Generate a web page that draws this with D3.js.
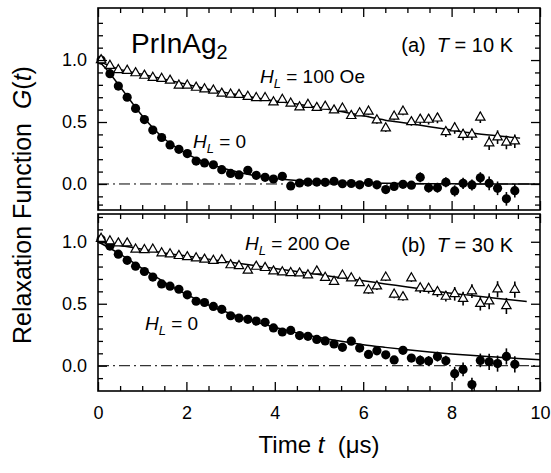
<!DOCTYPE html>
<html>
<head>
<meta charset="utf-8">
<script src="https://cdn.jsdelivr.net/npm/d3@7"></script>
<style>
  body { margin: 0; background: #fff; }
  svg text { font-family: "Liberation Sans", Arial, Helvetica, sans-serif; fill: #000; }
</style>
</head>
<body>
<div id="chart"></div>
<script>
// time bins (us), shared by all four spectra
var times = [0.07, 0.27, 0.46, 0.66, 0.85, 1.05, 1.24, 1.44, 1.63, 1.83,
  2.02, 2.22, 2.41, 2.61, 2.80, 3.00, 3.19, 3.39, 3.58, 3.78,
  3.97, 4.17, 4.36, 4.56, 4.75, 4.95, 5.14, 5.34, 5.53, 5.73,
  5.92, 6.12, 6.31, 6.51, 6.70, 6.90, 7.09, 7.29, 7.48, 7.68,
  7.87, 8.07, 8.26, 8.46, 8.65, 8.85, 9.04, 9.24, 9.43];

// (a) T = 10 K
var zfTop = [1.00, 0.89, 0.79, 0.70, 0.61, 0.52, 0.435, 0.375, 0.315, 0.28,
  0.245, 0.185, 0.17, 0.155, 0.115, 0.085, 0.073, 0.11, 0.07, 0.054,
  0.04, 0.062, -0.016, 0.008, 0.015, 0.015, 0.013, 0.022, 0.002, 0.004,
  -0.007, 0.012, -0.007, -0.045, -0.02, -0.003, -0.01, 0.054, -0.03, -0.03,
  0.014, -0.056, 0.005, -0.008, 0.05, 0.005, -0.035, -0.12, -0.054];
var lfTop = [1.0, 0.955, 0.92, 0.915, 0.895, 0.875, 0.858, 0.85, 0.835, 0.795,
  0.795, 0.778, 0.765, 0.755, 0.73, 0.723, 0.72, 0.705, 0.695, 0.695,
  0.66, 0.68, 0.65, 0.62, 0.64, 0.615, 0.625, 0.595, 0.61, 0.55,
  0.572, 0.585, 0.515, 0.45, 0.545, 0.585, 0.50, 0.52, 0.52, 0.53,
  0.42, 0.45, 0.398, 0.40, 0.537, 0.33, 0.378, 0.335, 0.345];
var errTop = [0.01, 0.01, 0.01, 0.01, 0.01, 0.01, 0.01, 0.01, 0.01, 0.01,
  0.01, 0.01, 0.01, 0.01, 0.01, 0.01, 0.01, 0.01, 0.01, 0.01,
  0.02, 0.02, 0.02, 0.02, 0.02, 0.02, 0.02, 0.02, 0.02, 0.02,
  0.02, 0.03, 0.03, 0.03, 0.03, 0.03, 0.03, 0.04, 0.04, 0.04,
  0.04, 0.045, 0.045, 0.045, 0.045, 0.055, 0.055, 0.055, 0.055];

// (b) T = 30 K
var zfBottom = [1.02, 0.965, 0.90, 0.85, 0.803, 0.76, 0.715, 0.66, 0.642, 0.617,
  0.572, 0.52, 0.51, 0.478, 0.455, 0.403, 0.384, 0.374, 0.36, 0.35,
  0.305, 0.272, 0.285, 0.243, 0.237, 0.212, 0.20, 0.175, 0.148, 0.198,
  0.142, 0.091, 0.12, 0.088, 0.047, 0.124, 0.062, 0.043, 0.038, 0.074,
  0.04, -0.064, -0.03, -0.152, 0.043, 0.031, 0.017, 0.075, 0.011];
var lfBottom = [1.025, 1.005, 0.988, 0.988, 0.938, 0.934, 0.938, 0.908, 0.90, 0.887,
  0.877, 0.868, 0.857, 0.847, 0.853, 0.812, 0.805, 0.768, 0.80, 0.79,
  0.762, 0.755, 0.749, 0.746, 0.73, 0.762, 0.71, 0.678, 0.728, 0.706,
  0.668, 0.61, 0.641, 0.713, 0.575, 0.554, 0.706, 0.626, 0.622, 0.595,
  0.558, 0.58, 0.541, 0.602, 0.50, 0.52, 0.617, 0.482, 0.614];
var errBottom = [0.01, 0.01, 0.01, 0.01, 0.01, 0.01, 0.01, 0.01, 0.01, 0.01,
  0.01, 0.01, 0.01, 0.01, 0.01, 0.01, 0.01, 0.01, 0.01, 0.01,
  0.02, 0.02, 0.02, 0.02, 0.02, 0.02, 0.02, 0.02, 0.02, 0.02,
  0.02, 0.03, 0.03, 0.03, 0.03, 0.03, 0.03, 0.04, 0.04, 0.04,
  0.04, 0.055, 0.055, 0.055, 0.055, 0.065, 0.065, 0.065, 0.065];

// fit curves
var fitZfTopT = [0, 0.25, 0.5, 0.75, 1, 1.25, 1.5, 1.75, 2, 2.5, 3, 3.5, 4, 4.5, 5, 6, 7, 8, 9, 10];
var fitZfTopG = [1.0, 0.90, 0.785, 0.665, 0.55, 0.45, 0.365, 0.30, 0.245, 0.165, 0.11, 0.07, 0.045, 0.028, 0.017, 0.007, 0.003, 0.001, 0, 0];
var fitLfTopT = [0, 0.25, 0.5, 1, 1.5, 2, 2.5, 3, 3.5, 4, 4.5, 5, 5.5, 6, 6.5, 7, 7.5, 8, 8.5, 9, 9.55];
var fitLfTopG = [1.0, 0.955, 0.925, 0.885, 0.845, 0.805, 0.765, 0.73, 0.70, 0.67, 0.645, 0.615, 0.585, 0.55, 0.515, 0.49, 0.462, 0.435, 0.41, 0.39, 0.37];
var fitZfBottomT = [0, 0.5, 1, 1.5, 2, 2.5, 3, 3.5, 4, 4.5, 5, 5.5, 6, 6.5, 7, 7.5, 8, 8.5, 9, 9.5, 10];
var fitZfBottomG = [1.0, 0.9, 0.785, 0.675, 0.575, 0.49, 0.42, 0.36, 0.31, 0.265, 0.228, 0.197, 0.17, 0.148, 0.128, 0.11, 0.095, 0.082, 0.07, 0.058, 0.048];
var fitLfBottomT = [0, 0.5, 1, 1.5, 2, 2.5, 3, 3.5, 4, 4.5, 5, 5.5, 6, 6.5, 7, 7.5, 8, 8.5, 9, 9.7];
var fitLfBottomG = [1.0, 0.97, 0.94, 0.91, 0.885, 0.86, 0.835, 0.81, 0.785, 0.76, 0.735, 0.71, 0.685, 0.66, 0.635, 0.61, 0.585, 0.565, 0.545, 0.518];

var xMajor = [0, 2, 4, 6, 8, 10];
var xMinor = [0.5, 1, 1.5, 2.5, 3, 3.5, 4.5, 5, 5.5, 6.5, 7, 7.5, 8.5, 9, 9.5];
var yMajor = [0, 0.5, 1.0];
var yMinor = [-0.1, 0.1, 0.2, 0.3, 0.4, 0.6, 0.7, 0.8, 0.9, 1.1, 1.2, 1.3];

var chart = (function() {

  var config = {
    width: 551,
    height: 473,
    left: 98,
    right: 540,
    major: 9,
    minor: 5,
    font: '"Liberation Sans", Arial, Helvetica, sans-serif'
  };

  var panels = [
    { top: 8, bottom: 210, domain: [-0.21, 1.42], zf: zfTop, lf: lfTop, err: errTop,
      fits: [[fitZfTopT, fitZfTopG], [fitLfTopT, fitLfTopG]] },
    { top: 214, bottom: 391, domain: [-0.204, 1.224], zf: zfBottom, lf: lfBottom, err: errBottom,
      fits: [[fitZfBottomT, fitZfBottomG], [fitLfBottomT, fitLfBottomG]] }
  ];

  var svg, x;

  function init() {
    svg = d3.select('#chart').append('svg')
      .attr('width', config.width)
      .attr('height', config.height);

    x = d3.scaleLinear().domain([0, 10]).range([config.left, config.right]);

    panels.forEach(function(p, i) {
      drawPanel(p, i === panels.length - 1);
    });

    labels();
  }

  function drawPanel(p, showX) {
    var y = d3.scaleLinear().domain(p.domain).range([p.bottom, p.top]);
    var g = svg.append('g');

    // zero line
    g.append('line')
      .attr('x1', x(0)).attr('x2', x(10))
      .attr('y1', y(0)).attr('y2', y(0))
      .attr('stroke', '#000').attr('stroke-width', 1)
      .attr('stroke-dasharray', '11,4,2,4');

    // fits
    var line = d3.line()
      .x(function(d) { return x(d[0]); })
      .y(function(d) { return y(d[1]); })
      .curve(d3.curveMonotoneX);
    p.fits.forEach(function(f) {
      g.append('path')
        .datum(d3.zip(f[0], f[1]))
        .attr('d', line)
        .attr('fill', 'none')
        .attr('stroke', '#000')
        .attr('stroke-width', 1.5);
    });

    var zf = times.map(function(t, i) { return { t: t, v: p.zf[i], e: p.err[i] }; });
    var lf = times.map(function(t, i) { return { t: t, v: p.lf[i], e: p.err[i] }; });

    // error bars
    g.selectAll('line.err').data(zf.concat(lf)).enter().append('line')
      .attr('class', 'err')
      .attr('x1', function(d) { return x(d.t); })
      .attr('x2', function(d) { return x(d.t); })
      .attr('y1', function(d) { return y(d.v - d.e); })
      .attr('y2', function(d) { return y(d.v + d.e); })
      .attr('stroke', '#000').attr('stroke-width', 1.6);

    g.selectAll('circle').data(zf).enter().append('circle')
      .attr('cx', function(d) { return x(d.t); })
      .attr('cy', function(d) { return y(d.v); })
      .attr('r', 4.6)
      .attr('fill', '#000');

    var tri = d3.symbol().type(d3.symbolTriangle).size(38);
    g.selectAll('path.tri').data(lf).enter().append('path')
      .attr('class', 'tri')
      .attr('d', tri)
      .attr('transform', function(d) { return 'translate(' + x(d.t) + ',' + y(d.v) + ')'; })
      .attr('fill', '#fff')
      .attr('stroke', '#000')
      .attr('stroke-width', 1.2);

    // ticks, inward on all four sides
    var ax = [
      [d3.axisBottom(x), p.bottom, xMajor, config.major, showX],
      [d3.axisBottom(x), p.bottom, xMinor, config.minor, false],
      [d3.axisTop(x), p.top, xMajor, config.major, false],
      [d3.axisTop(x), p.top, xMinor, config.minor, false]
    ];
    ax.forEach(function(a) {
      var s = a[0].tickValues(a[2]).tickSizeInner(-a[3]).tickSizeOuter(0).tickPadding(15)
        .tickFormat(a[4] ? d3.format('d') : '');
      var gg = g.append('g').attr('transform', 'translate(0,' + a[1] + ')').call(s);
      styleAxis(gg);
    });

    var ay = [
      [d3.axisLeft(y), config.left, yMajor, config.major, true],
      [d3.axisLeft(y), config.left, yMinor, config.minor, false],
      [d3.axisRight(y), config.right, yMajor, config.major, false],
      [d3.axisRight(y), config.right, yMinor, config.minor, false]
    ];
    ay.forEach(function(a) {
      var s = a[0].tickValues(a[2]).tickSizeInner(-a[3]).tickSizeOuter(0).tickPadding(11)
        .tickFormat(a[4] ? d3.format('.1f') : '');
      var gg = g.append('g').attr('transform', 'translate(' + a[1] + ',0)').call(s);
      styleAxis(gg);
    });

    // frame
    g.append('rect')
      .attr('x', config.left).attr('y', p.top)
      .attr('width', config.right - config.left)
      .attr('height', p.bottom - p.top)
      .attr('fill', 'none')
      .attr('stroke', '#000')
      .attr('stroke-width', 1.6);
  }

  function styleAxis(gg) {
    gg.select('.domain').remove();
    gg.selectAll('line').attr('stroke', '#000').attr('stroke-width', 1.3);
    gg.selectAll('text')
      .attr('fill', '#000')
      .style('font-family', config.font)
      .style('font-size', '18px');
  }

  function fieldLabel(px, py, rest) {
    var t = svg.append('text').attr('x', px).attr('y', py).style('font-size', '19px');
    t.append('tspan').style('font-style', 'italic').text('H');
    t.append('tspan').style('font-style', 'italic').style('font-size', '13px').attr('dy', 5).text('L');
    t.append('tspan').attr('dy', -5).text(' = ' + rest);
  }

  function tempLabel(py, letter, temp) {
    var t = svg.append('text').attr('x', 513).attr('y', py)
      .attr('text-anchor', 'end').style('font-size', '20px')
      .attr('xml:space', 'preserve');
    t.append('tspan').text('(' + letter + ')  ');
    t.append('tspan').style('font-style', 'italic').text('T');
    t.append('tspan').text(' = ' + temp);
  }

  function labels() {
    var c = svg.append('text').attr('x', 131).attr('y', 53).style('font-size', '28px');
    c.append('tspan').text('PrInAg');
    c.append('tspan').style('font-size', '20px').attr('dy', 6).text('2');

    tempLabel(52, 'a', '10 K');
    tempLabel(252, 'b', '30 K');

    fieldLabel(260, 83, '100 Oe');
    fieldLabel(193, 148, '0');
    fieldLabel(245, 250, '200 Oe');
    fieldLabel(145, 330, '0');

    var yt = svg.append('text')
      .attr('transform', 'translate(31,205) rotate(-90)')
      .attr('text-anchor', 'middle')
      .attr('xml:space', 'preserve')
      .style('font-size', '25px');
    yt.append('tspan').text('Relaxation Function  ');
    yt.append('tspan').style('font-style', 'italic').text('G');
    yt.append('tspan').text('(');
    yt.append('tspan').style('font-style', 'italic').text('t');
    yt.append('tspan').text(')');

    var xt = svg.append('text')
      .attr('x', (config.left + config.right) / 2).attr('y', 453)
      .attr('text-anchor', 'middle')
      .attr('xml:space', 'preserve')
      .style('font-size', '24px');
    xt.append('tspan').text('Time ');
    xt.append('tspan').style('font-style', 'italic').text('t');
    xt.append('tspan').text('  (\u03bcs)');
  }

  return {
    init: init
  };

})();

(function() {
  chart.init();
})();
</script>
</body>
</html>
